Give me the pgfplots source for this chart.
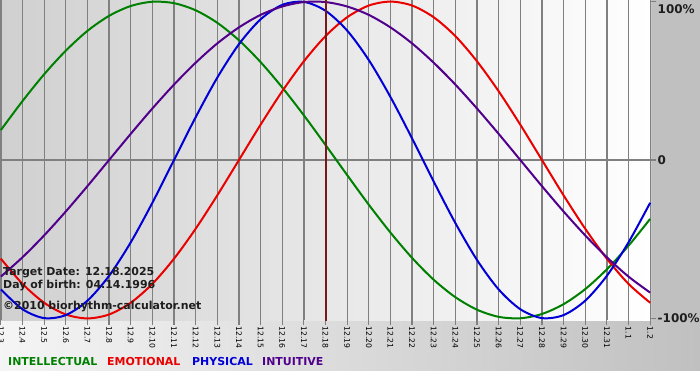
\documentclass[border=0pt]{standalone}
\usepackage{pgfplots}
\pgfplotsset{compat=1.18}
\usepackage{fontspec}
\setmainfont{DejaVu Sans}
\definecolor{cInt}{RGB}{0,128,0}
\definecolor{cEmo}{RGB}{235,0,0}
\definecolor{cPhy}{RGB}{0,0,215}
\definecolor{cIntu}{RGB}{80,0,140}
\definecolor{gridc}{RGB}{128,128,128}
\definecolor{marg}{RGB}{192,192,192}
\definecolor{plotl}{RGB}{208,208,208}
\definecolor{target}{RGB}{120,25,25}
\definecolor{txt}{RGB}{30,30,30}
\begin{document}
\begin{tikzpicture}[x=1bp,y=1bp]
\useasboundingbox (0,0) rectangle (700,380);
\fill[white] (0,0) rectangle (700,380);
\shade[left color=white!96!black, right color=marg] (0,10) rectangle (700,60);
\fill[marg] (651,60) rectangle (700,380);
\begin{axis}[
  at={(0.87bp,220bp)}, anchor=origin,
  scale only axis, width=651bp, height=320bp,
  xmin=-0.04, xmax=30.04, ymin=-101, ymax=101,
  axis line style={draw=none},
  axis background/.style={left color=plotl, right color=white},
  xtick={0,...,30},
  xticklabels={12.3,12.4,12.5,12.6,12.7,12.8,12.9,12.10,12.11,12.12,12.13,12.14,12.15,12.16,12.17,12.18,12.19,12.20,12.21,12.22,12.23,12.24,12.25,12.26,12.27,12.28,12.29,12.30,12.31,1.1,1.2},
  xmajorgrids,
  grid style={gridc, line width=1.3bp},
  xticklabel style={rotate=-90, anchor=west, font=\fontsize{7.7}{8}\selectfont, inner sep=1.5bp, text=black},
  tick align=outside, xtick pos=bottom, ytick pos=right,
  major tick length=5bp,
  tick style={gridc, line width=1.2bp},
  ytick={-100,0}, yticklabels={-100\%,0},
  extra y ticks={100}, extra y tick labels={100\%},
  extra y tick style={yticklabel style={anchor=north west, yshift=-1bp}},
  yticklabel style={anchor=west, font=\fontsize{12}{12}\selectfont\bfseries, inner sep=1.5bp, text=txt},
  clip=true,
]
\draw[gridc, line width=1.3bp] (axis cs:-1,0) -- (axis cs:31,0);
\addplot[cInt, line width=2bp, smooth] coordinates {(0,18.9)(1,37.2)(2,54.1)(3,69.0)(4,81.5)(5,91.0)(6,97.2)(7,99.9)(8,99.0)(9,94.5)(10,86.6)(11,75.6)(12,61.8)(13,45.8)(14,28.2)(15,9.5)(16,-9.5)(17,-28.2)(18,-45.8)(19,-61.8)(20,-75.6)(21,-86.6)(22,-94.5)(23,-99.0)(24,-99.9)(25,-97.2)(26,-91.0)(27,-81.5)(28,-69.0)(29,-54.1)(30,-37.2)};
\addplot[cEmo, line width=2bp, smooth] coordinates {(0,-62.3)(1,-78.2)(2,-90.1)(3,-97.5)(4,-100)(5,-97.5)(6,-90.1)(7,-78.2)(8,-62.3)(9,-43.4)(10,-22.3)(11,0)(12,22.3)(13,43.4)(14,62.3)(15,78.2)(16,90.1)(17,97.5)(18,100)(19,97.5)(20,90.1)(21,78.2)(22,62.3)(23,43.4)(24,22.3)(25,0)(26,-22.3)(27,-43.4)(28,-62.3)(29,-78.2)(30,-90.1)};
\addplot[cPhy, line width=2bp, smooth] coordinates {(0,-81.7)(1,-94.2)(2,-99.8)(3,-97.9)(4,-88.8)(5,-73.1)(6,-52.0)(7,-27.0)(8,0)(9,27.0)(10,52.0)(11,73.1)(12,88.8)(13,97.9)(14,99.8)(15,94.2)(16,81.7)(17,63.1)(18,39.8)(19,13.6)(20,-13.6)(21,-39.8)(22,-63.1)(23,-81.7)(24,-94.2)(25,-99.8)(26,-97.9)(27,-88.8)(28,-73.1)(29,-52.0)(30,-27.0)};
\addplot[cIntu, line width=2bp, smooth] coordinates {(0,-73.6)(1,-61.4)(2,-47.6)(3,-32.5)(4,-16.5)(5,0)(6,16.5)(7,32.5)(8,47.6)(9,61.4)(10,73.6)(11,83.7)(12,91.6)(13,96.9)(14,99.7)(15,99.7)(16,96.9)(17,91.6)(18,83.7)(19,73.6)(20,61.4)(21,47.6)(22,32.5)(23,16.5)(24,0)(25,-16.5)(26,-32.5)(27,-47.6)(28,-61.4)(29,-73.6)(30,-83.7)};
\draw[target, line width=2bp] (axis cs:15,-110) -- (axis cs:15,110);
\end{axis}
\begin{scope}[every node/.style={anchor=west, inner sep=0pt, font=\fontsize{11}{11}\selectfont\bfseries}]
\node[text=txt] at (3,107) {Target Date: 12.18.2025};
\node[text=txt] at (3,94) {Day of birth: 04.14.1996};
\node[text=txt] at (3,73) {©2010 biorhythm-calculator.net};
\node[text=cInt] at (8,18) {INTELLECTUAL};
\node[text=cEmo] at (107,18) {EMOTIONAL};
\node[text=cPhy] at (192,18) {PHYSICAL};
\node[text=cIntu] at (262,18) {INTUITIVE};
\end{scope}
\end{tikzpicture}
\end{document}
